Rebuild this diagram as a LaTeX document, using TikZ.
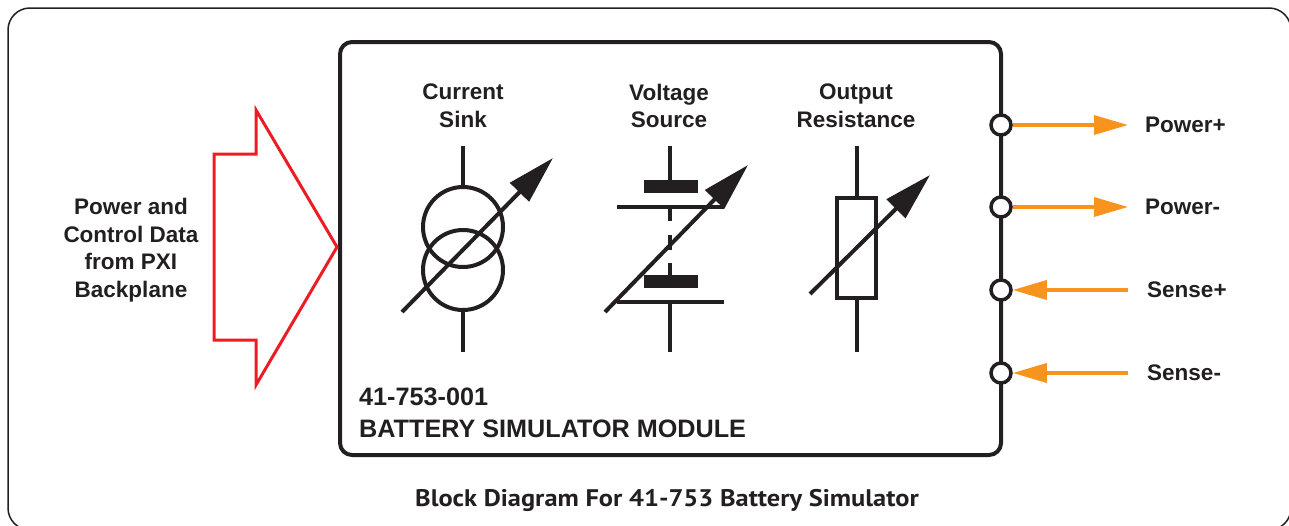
\documentclass[tikz,border=0pt]{standalone}
\usepackage{fontspec}
\setmainfont{Liberation Sans}
\newfontfamily\capfont{PT Sans}
\usetikzlibrary{arrows.meta}
\definecolor{ink}{HTML}{231F20}
\definecolor{redarrow}{HTML}{ED1C24}
\definecolor{orangearrow}{HTML}{F7941D}
\begin{document}
\begin{tikzpicture}[x=1pt,y=-1pt,
  lbl/.style={font=\bfseries\fontsize{22.5}{27.5}\selectfont, text=ink, align=center, inner sep=0pt},
  sym/.style={draw=ink, line width=4pt},
  varrow/.style={draw=ink, line width=4pt, -{Triangle[length=48pt,width=26pt]}},
  term/.style={circle, draw=ink, fill=white, line width=3.5pt, minimum size=20pt, inner sep=0pt},
  oarrow/.style={draw=orangearrow, line width=3.5pt, -{Triangle[length=34pt,width=19pt]}},
  sidelbl/.style={font=\bfseries\fontsize{22.5}{27}\selectfont, text=ink, anchor=west, inner sep=0pt},
  modlbl/.style={font=\bfseries\fontsize{25.2}{30}\selectfont, text=ink, anchor=west, inner sep=0pt}
]
\useasboundingbox (0,0) rectangle (1289,525);
% outer frame
\draw[ink, line width=1.5pt, rounded corners=22pt] (8,8) rectangle (1291,530);
% module box
\draw[ink, line width=4pt, rounded corners=12pt] (340,42) rectangle (1001,455);
% red input arrow
\draw[redarrow, line width=3pt, line join=miter] (214,154) -- (256,154) -- (256,110) -- (337,247) -- (256,385) -- (256,340) -- (214,340) -- cycle;
\node[lbl] (input) at (131,250) {Power and\\Control Data\\from PXI\\Backplane};

% labels
\node[lbl] (sinklbl) at (463,106) {Current\\Sink};
\node[lbl] (vsrclbl) at (669,106) {Voltage\\Source};
\node[lbl] (reslbl) at (856,106) {Output\\Resistance};

% current sink
\draw[sym] (463,146) -- (463,187);
\draw[sym] (463,310) -- (463,352);
\draw[sym] (463,227) circle (40);
\draw[sym] (463,270) circle (40);
\draw[varrow] (402,312) -- (553,158);

% voltage source
\draw[sym] (670,146) -- (670,182);
\fill[ink] (644,180) rectangle (698,193);
\draw[sym] (617,207) -- (724,207);
\draw[sym] (670,207) -- (670,221);
\draw[sym] (670,235) -- (670,250);
\draw[sym] (670,263) -- (670,277);
\fill[ink] (644,275) rectangle (698,288);
\draw[sym] (617,302) -- (724,302);
\draw[sym] (670,302) -- (670,352);
\draw[varrow] (605,312) -- (748,165);

% output resistance
\draw[sym] (857,146) -- (857,198);
\draw[sym] (837,198) rectangle (876,298);
\draw[sym] (857,298) -- (857,352);
\draw[varrow] (810,294) -- (930,175);

% module text
\node[modlbl] (partno) at (359,397) {41-753-001};
\node[modlbl] (modname) at (359,429) {BATTERY SIMULATOR MODULE};

% terminals
\coordinate (pp) at (1128,125);
\coordinate (pm) at (1128,207);
\coordinate (sp) at (1128,290);
\coordinate (sm) at (1128,373);
\node[term] (tpp) at (1001,125) {};
\node[term] (tpm) at (1001,207) {};
\node[term] (tsp) at (1001,290) {};
\node[term] (tsm) at (1001,373) {};
\draw[oarrow] (tpp.east) -- (pp);
\draw[oarrow] (tpm.east) -- (pm);
\draw[oarrow] (sp) -- (tsp.east);
\draw[oarrow] (sm) -- (tsm.east);
\node[sidelbl] (lpp) at (1145,125) {Power+};
\node[sidelbl] (lpm) at (1145,207) {Power-};
\node[sidelbl] (lsp) at (1147,290) {Sense+};
\node[sidelbl] (lsm) at (1147,373) {Sense-};

% caption
\node[font=\capfont\bfseries\fontsize{24}{28}\selectfont, text=ink, inner sep=0pt] (caption) at (667,500) {\scalebox{1.1}[1]{Block Diagram For 41-753 Battery Simulator}};
\end{tikzpicture}
\end{document}
